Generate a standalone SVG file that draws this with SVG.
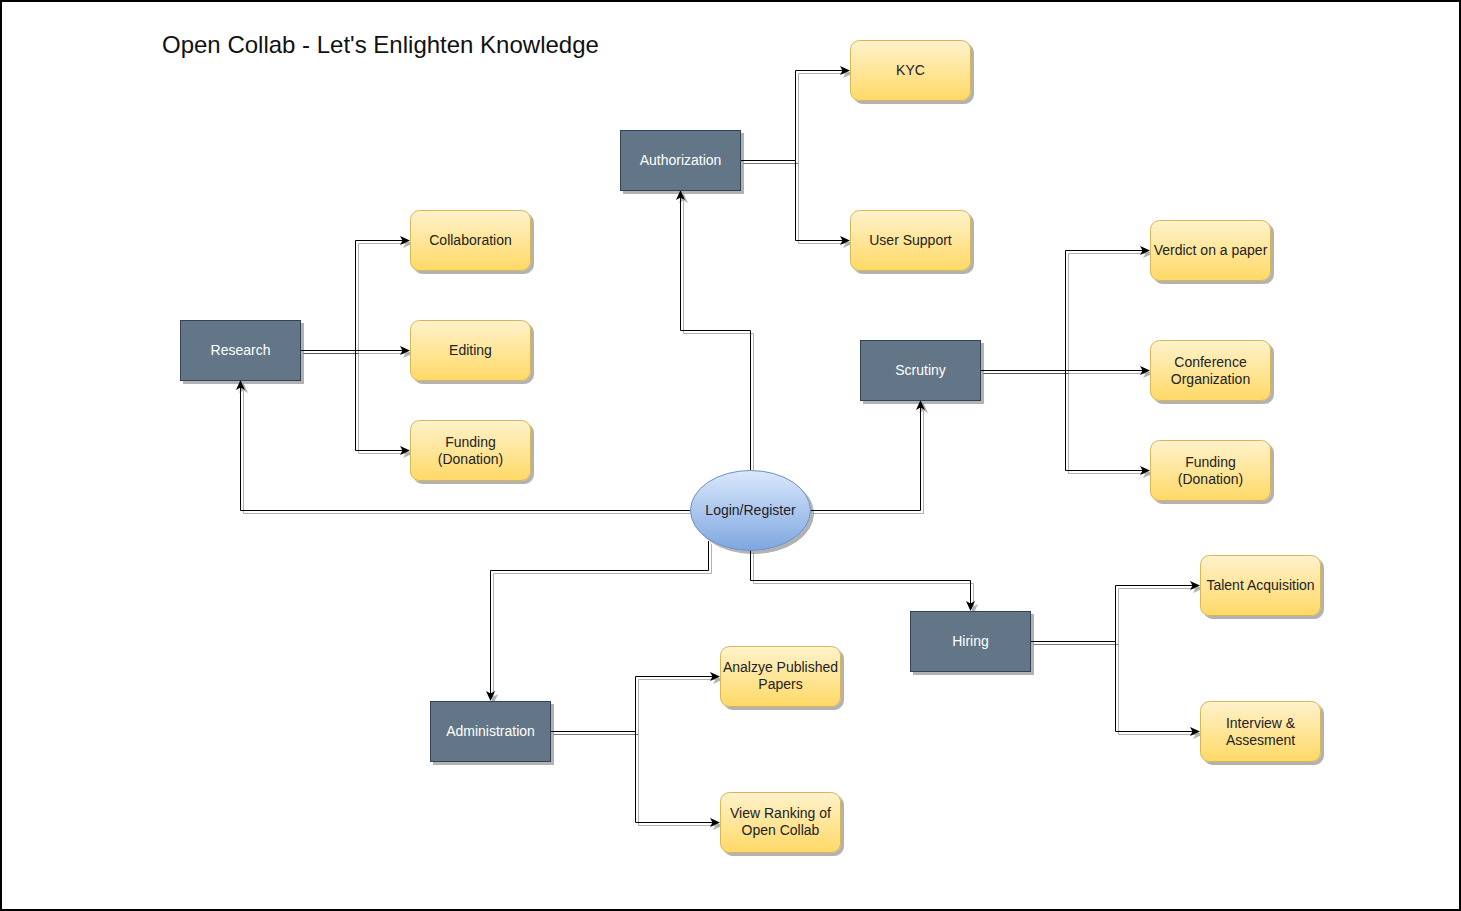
<svg xmlns="http://www.w3.org/2000/svg" width="1461" height="911" viewBox="0 0 1461 911">
<defs>
<linearGradient id="gy" x1="0" y1="0" x2="0" y2="1"><stop offset="0" stop-color="#fff2cc"/><stop offset="1" stop-color="#ffd966"/></linearGradient>
<linearGradient id="gb" x1="0" y1="0" x2="0" y2="1"><stop offset="0" stop-color="#dae8fc"/><stop offset="1" stop-color="#7ea6e0"/></linearGradient>
<filter id="sh" filterUnits="userSpaceOnUse" x="0" y="0" width="1461" height="911"><feDropShadow dx="3" dy="3" stdDeviation="0.6" flood-color="#000" flood-opacity="0.3"/></filter>
<marker id="ar" viewBox="0 0 10 10" refX="9" refY="5" markerWidth="10" markerHeight="10" markerUnits="userSpaceOnUse" orient="auto"><path d="M0,0.5 L10,5 L0,9.5 L2.5,5 Z" fill="#000"/></marker>
</defs>
<style>
.dk{fill:#647687;stroke:#314354;stroke-width:1;filter:url(#sh)}
.yl{fill:url(#gy);stroke:#d6b656;stroke-width:1;filter:url(#sh)}
.el{fill:url(#gb);stroke:#6c8ebf;stroke-width:1;filter:url(#sh)}
.tw{font-family:"Liberation Sans",Arial,sans-serif;font-size:14px;fill:#fff;text-anchor:middle}
.tb{font-family:"Liberation Sans",Arial,sans-serif;font-size:14px;fill:#222;text-anchor:middle}
.c path{fill:none;stroke:#000;stroke-width:1;filter:url(#sh)}
.a{marker-end:url(#ar)}
</style>
<rect x="1" y="1" width="1459" height="909" fill="#fff" stroke="#000" stroke-width="2"/>
<text x="162" y="53" font-family="Liberation Sans,Arial,sans-serif" font-size="24" fill="#111">Open Collab - Let's Enlighten Knowledge</text>
<g class="c" id="connectors">
<path class="a" d="M740.5,160.5 H795.5 V70.5 H849"/>
<path class="a" d="M740.5,160.5 H795.5 V240.5 H849"/>
<path class="a" d="M750.5,470 V330.5 H680.5 V191"/>
<path class="a" d="M690,510.5 H240.5 V381"/>
<path class="a" d="M810,510.5 H920.5 V401"/>
<path class="a" d="M708.5,541 V570.5 H490.5 V700"/>
<path class="a" d="M750.5,550 V580.5 H970.5 V610"/>
<path class="a" d="M300.5,350.5 H355.5 V240.5 H409"/>
<path class="a" d="M300.5,350.5 H409"/>
<path class="a" d="M300.5,350.5 H355.5 V450.5 H409"/>
<path class="a" d="M980.5,370.5 H1065.5 V250.5 H1149"/>
<path class="a" d="M980.5,370.5 H1149"/>
<path class="a" d="M980.5,370.5 H1065.5 V470.5 H1149"/>
<path class="a" d="M1030.5,641.5 H1115.5 V585.5 H1199"/>
<path class="a" d="M1030.5,641.5 H1115.5 V731.5 H1199"/>
<path class="a" d="M550.5,731.5 H635.5 V676.5 H719"/>
<path class="a" d="M550.5,731.5 H635.5 V822.5 H719"/>
</g>
<g id="authorization"><rect class="dk" x="620.5" y="130.5" width="120" height="60"/><text class="tw" x="680.5" y="165">Authorization</text></g>
<g id="kyc"><rect class="yl" x="850.5" y="40.5" width="120" height="60" rx="9"/><text class="tb" x="910.5" y="75">KYC</text></g>
<g id="usersupport"><rect class="yl" x="850.5" y="210.5" width="120" height="60" rx="9"/><text class="tb" x="910.5" y="245">User Support</text></g>
<g id="research"><rect class="dk" x="180.5" y="320.5" width="120" height="60"/><text class="tw" x="240.5" y="355">Research</text></g>
<g id="collaboration"><rect class="yl" x="410.5" y="210.5" width="120" height="60" rx="9"/><text class="tb" x="470.5" y="245">Collaboration</text></g>
<g id="editing"><rect class="yl" x="410.5" y="320.5" width="120" height="60" rx="9"/><text class="tb" x="470.5" y="355">Editing</text></g>
<g id="funding1"><rect class="yl" x="410.5" y="420.5" width="120" height="60" rx="9"/><text class="tb" x="470.5" y="447">Funding</text><text class="tb" x="470.5" y="464">(Donation)</text></g>
<g id="scrutiny"><rect class="dk" x="860.5" y="340.5" width="120" height="60"/><text class="tw" x="920.5" y="375">Scrutiny</text></g>
<g id="verdict"><rect class="yl" x="1150.5" y="220.5" width="120" height="60" rx="9"/><text class="tb" x="1210.5" y="255">Verdict on a paper</text></g>
<g id="conference"><rect class="yl" x="1150.5" y="340.5" width="120" height="60" rx="9"/><text class="tb" x="1210.5" y="367">Conference</text><text class="tb" x="1210.5" y="384">Organization</text></g>
<g id="funding2"><rect class="yl" x="1150.5" y="440.5" width="120" height="60" rx="9"/><text class="tb" x="1210.5" y="467">Funding</text><text class="tb" x="1210.5" y="484">(Donation)</text></g>
<g id="login"><ellipse class="el" cx="750.5" cy="510.5" rx="60" ry="40"/><text class="tb" x="750.5" y="515">Login/Register</text></g>
<g id="hiring"><rect class="dk" x="910.5" y="611.5" width="120" height="60"/><text class="tw" x="970.5" y="646">Hiring</text></g>
<g id="talent"><rect class="yl" x="1200.5" y="555.5" width="120" height="60" rx="9"/><text class="tb" x="1260.5" y="590">Talent Acquisition</text></g>
<g id="interview"><rect class="yl" x="1200.5" y="701.5" width="120" height="60" rx="9"/><text class="tb" x="1260.5" y="728">Interview &amp;</text><text class="tb" x="1260.5" y="745">Assesment</text></g>
<g id="administration"><rect class="dk" x="430.5" y="701.5" width="120" height="60"/><text class="tw" x="490.5" y="736">Administration</text></g>
<g id="analyze"><rect class="yl" x="720.5" y="646.5" width="120" height="60" rx="9"/><text class="tb" x="780.5" y="672">Analzye Published</text><text class="tb" x="780.5" y="689">Papers</text></g>
<g id="ranking"><rect class="yl" x="720.5" y="792.5" width="120" height="60" rx="9"/><text class="tb" x="780.5" y="818">View Ranking of</text><text class="tb" x="780.5" y="835">Open Collab</text></g>
</svg>
